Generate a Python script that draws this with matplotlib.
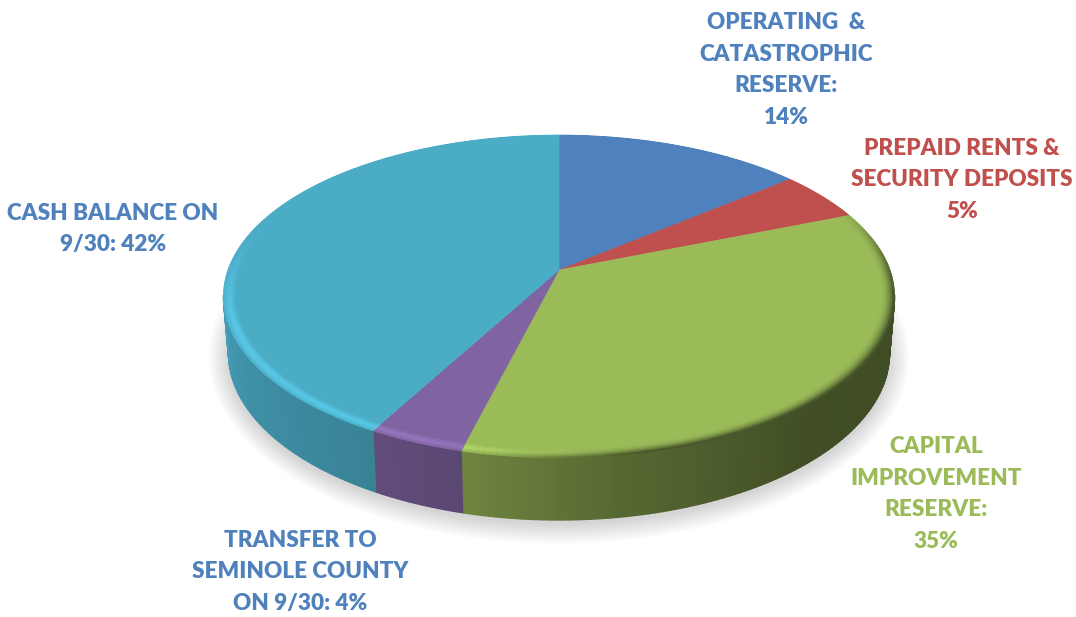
import numpy as np
import matplotlib
matplotlib.use("Agg")
import matplotlib.pyplot as plt
from matplotlib.collections import PolyCollection
from matplotlib.colors import to_rgb
from matplotlib.patches import Polygon

# slice shares, clockwise from twelve o'clock
names = ["OPERATING  &\nCATASTROPHIC\nRESERVE:\n", "PREPAID RENTS &\nSECURITY DEPOSITS\n",
         "CAPITAL\nIMPROVEMENT\nRESERVE:\n", "TRANSFER TO\nSEMINOLE COUNTY\nON 9/30: ", "CASH BALANCE ON\n9/30: "]
values = [14, 5, 35, 4, 42]
colors = ["#4f81bd", "#c0504d", "#9bbb59", "#8064a2", "#4bacc6"]
text_colors = ["#4f81bd", "#c0504d", "#9bbb59", "#4f81bd", "#4f81bd"]
label_x = [786, 962, 936, 300, 113]
label_y = [70, 180, 494, 572, 229]

plt.rcParams["font.family"] = ["Lato", "DejaVu Sans"]

CX = 559.0


def project(r, ang, y0=270.0, a=331.0, b=157.0, k=0.164):
    # disc seen in perspective, the far side is foreshortened
    rad = np.radians(ang)
    xx = r * np.sin(rad)
    yy = r * np.cos(rad)
    w = 1 + k * yy
    return CX + a * xx / w, y0 - b * yy / w


def project_bottom(ang):
    return project(1.0, ang, y0=325.6, a=326.0, b=162.5)


def smooth(t):
    t = np.clip(t, 0, 1)
    return t * t * (3 - 2 * t)


def side_shade(ang):
    return np.interp(ang, [95, 140, 170, 194, 209, 240, 262],
                     [0.40, 0.42, 0.55, 0.71, 0.76, 0.84, 0.92])


def rim_color(base, ang, t):
    # darker lip facing right, bright lip facing the lower left
    dark = smooth((ang - 60) / 40) * (1 - smooth((ang - 165) / 35))
    light = smooth((ang - 165) / 35) * (1 - smooth((ang - 245) / 45))
    f = 1 - t * t * dark * 0.6
    f = f + 0.16 * light * np.sin(np.pi * np.clip(t * 0.85, 0, 1)) ** 2
    return np.clip(np.array(base) * f, 0, 1)


fig = plt.figure(figsize=(10.76, 6.17), dpi=100)
ax = fig.add_axes([0, 0, 1, 1])
ax.set_xlim(0, 1076)
ax.set_ylim(617, 0)
ax.axis("off")

# soft shadow under the disc
all_ang = np.linspace(0, 360, 181)
bx, by = project_bottom(all_ang)
for grow in np.arange(20, 0, -1.5):
    sx = CX + (bx - CX) * (1 + grow / 331)
    sy = 355 + (by - 353) * (1 + grow / 167) + 2
    ax.add_patch(Polygon(np.c_[sx, sy], closed=True, fc="#000000", ec="none", alpha=0.01, zorder=1))

edges = np.cumsum([0] + values) * 3.6

# side wall, only the front part of the disc shows it
wall_quads, wall_cols = [], []
for i in range(len(values)):
    start = max(edges[i], 99.0)
    end = min(edges[i + 1], 261.0)
    if end <= start:
        continue
    base = np.array(to_rgb(colors[i]))
    steps = np.linspace(start, end, int(end - start) + 2)
    for a0, a1 in zip(steps[:-1], steps[1:]):
        x0, y0 = project(1.0, a0)
        x1, y1 = project(1.0, a1)
        x2, y2 = project_bottom(a1)
        x3, y3 = project_bottom(a0)
        wall_quads.append([(x0, y0), (x1, y1), (x2, y2), (x3, y3)])
        wall_cols.append(base * side_shade((a0 + a1) / 2))
ax.add_collection(PolyCollection(wall_quads, facecolors=wall_cols, edgecolors=wall_cols, linewidths=1.0, zorder=2))

# top face
for i in range(len(values)):
    steps = np.linspace(edges[i], edges[i + 1], 120)
    px, py = project(0.97, steps)
    pts = [(CX, 270.0)] + list(zip(px, py))
    ax.add_patch(Polygon(pts, closed=True, fc=colors[i], ec=colors[i], lw=0.4, zorder=3))

# rounded lip around the rim
rim_quads, rim_cols = [], []
rings = np.linspace(0.96, 1.0, 9)
for i in range(len(values)):
    base = to_rgb(colors[i])
    steps = np.linspace(edges[i], edges[i + 1], max(int(values[i] * 3.6), 2) + 1)
    for a0, a1 in zip(steps[:-1], steps[1:]):
        for j in range(len(rings) - 1):
            r0, r1 = rings[j], rings[j + 1]
            quad = [project(r0, a0), project(r0, a1), project(r1, a1), project(r1, a0)]
            rim_quads.append([(float(p[0]), float(p[1])) for p in quad])
            rim_cols.append(rim_color(base, (a0 + a1) / 2, (j + 0.5) / (len(rings) - 1)))
ax.add_collection(PolyCollection(rim_quads, facecolors=rim_cols, edgecolors=rim_cols, linewidths=0.6, zorder=4))

for i in range(len(values)):
    ax.text(label_x[i], label_y[i], f"{names[i]}{values[i]}%", color=text_colors[i], fontsize=16.2,
            fontweight="heavy", ha="center", va="center", linespacing=1.64, zorder=5)

fig.savefig("out.png", dpi=100)
